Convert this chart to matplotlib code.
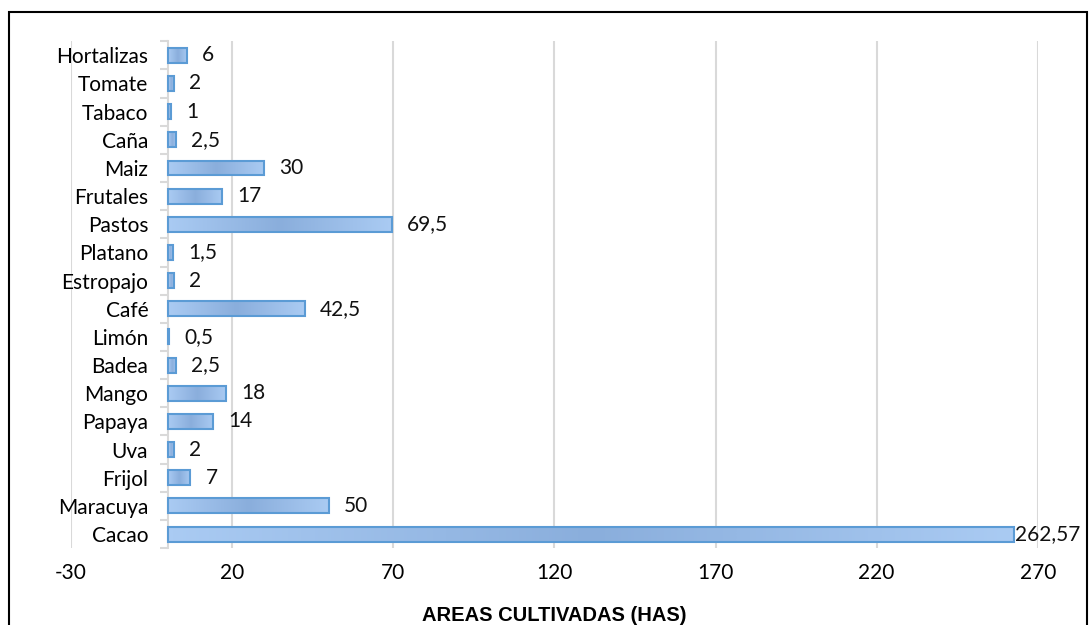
import numpy as np
import matplotlib.pyplot as plt
from matplotlib.colors import LinearSegmentedColormap
from matplotlib.patches import Rectangle

# cultivos y hectareas
cultivos = ['Cacao', 'Maracuya', 'Frijol', 'Uva', 'Papaya', 'Mango', 'Badea', 'Limón',
            'Café', 'Estropajo', 'Platano', 'Pastos', 'Frutales', 'Maiz', 'Caña',
            'Tabaco', 'Tomate', 'Hortalizas']
areas = [262.57, 50, 7, 2, 14, 18, 2.5, 0.5, 42.5, 2, 1.5, 69.5, 17, 30, 2.5, 1, 2, 6]
etiquetas = ['262,57', '50', '7', '2', '14', '18', '2,5', '0,5', '42,5', '2', '1,5',
             '69,5', '17', '30', '2,5', '1', '2', '6']
xticks = [-30, 20, 70, 120, 170, 220, 270]

fuente = 'Lato'
tam = 15

fig = plt.figure(figsize=(10.89, 6.25), dpi=100)
ax = fig.add_axes([0.0652, 0.123, 0.8878, 0.811])

grad = LinearSegmentedColormap.from_list('g', ['#aacbf3', '#8aaedc', '#aacbf3'])
ramp = np.linspace(0, 1, 256).reshape(1, -1)

y = np.arange(len(cultivos))
alto = 0.53
bars = ax.barh(y, areas, height=alto, color='none', edgecolor='#5b9bd5', linewidth=1.5, zorder=3)
for b in bars:
    x0, y0 = b.get_x(), b.get_y()
    w, h = b.get_width(), b.get_height()
    im = ax.imshow(ramp, cmap=grad, aspect='auto', extent=(x0, x0 + w, y0, y0 + h),
                   zorder=2, interpolation='bicubic')
    im.set_clip_path(b)

for i, (v, t) in enumerate(zip(areas, etiquetas)):
    off = 1 if v > 200 else 11
    ax.annotate(t, (v, i), xytext=(off, 0), textcoords='offset points', va='center',
                ha='left', fontsize=tam, family=fuente, color='#111111')

ax.set_xlim(-30, 270)
ax.set_ylim(-0.5, len(cultivos) - 0.5)
ax.set_xticks(xticks)
ax.set_xticklabels([str(t) for t in xticks], fontsize=tam, family=fuente)
ax.tick_params(axis='x', length=0, pad=11)
ax.grid(axis='x', color='#d9d9d9', linewidth=1.5, zorder=0)
ax.set_axisbelow(True)

ax.spines['left'].set_position(('data', 0))
ax.spines['left'].set_color('#d9d9d9')
ax.spines['left'].set_linewidth(1.5)
for s in ['top', 'right', 'bottom']:
    ax.spines[s].set_visible(False)
ax.set_yticks(y)
ax.set_yticklabels(cultivos, fontsize=tam, family=fuente)
ax.set_yticks(np.arange(len(cultivos) + 1) - 0.5, minor=True)
ax.tick_params(axis='y', which='major', length=0, pad=14)
ax.tick_params(axis='y', which='minor', length=6, width=1.5, color='#d9d9d9')

ax.set_xlabel('AREAS CULTIVADAS (HAS)', fontsize=14.5, fontweight='bold',
              family='Liberation Sans', labelpad=16)

fig.patches.append(Rectangle((9 / 1089, -0.01), 1078 / 1089, 1 - 12 / 625 + 0.01,
                             transform=fig.transFigure, fill=False, edgecolor='black',
                             linewidth=1.5))

fig.savefig('out.png', dpi=100)
